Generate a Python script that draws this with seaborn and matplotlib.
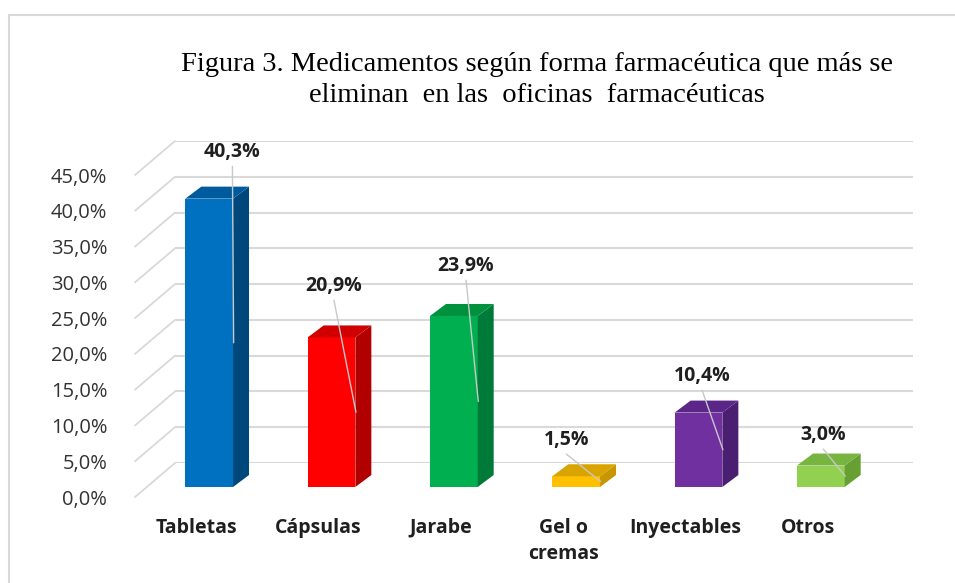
import matplotlib
matplotlib.use("Agg")
import matplotlib.pyplot as plt
import seaborn as sns
from matplotlib.patches import Polygon, Rectangle
from matplotlib.lines import Line2D
from matplotlib.transforms import IdentityTransform

# ---------------- data ----------------
categorias = ["Tabletas", "Cápsulas", "Jarabe", "Gel o\ncremas", "Inyectables", "Otros"]
valores = [40.3, 20.9, 23.9, 1.5, 10.4, 3.0]
etiquetas = ["40,3%", "20,9%", "23,9%", "1,5%", "10,4%", "3,0%"]
ticks_y = [0, 5, 10, 15, 20, 25, 30, 35, 40, 45]
ticks_y_txt = ["0,0%", "5,0%", "10,0%", "15,0%", "20,0%", "25,0%",
               "30,0%", "35,0%", "40,0%", "45,0%"]
titulo = ("Figura 3. Medicamentos según forma farmacéutica que más se\n"
          "eliminan  en las  oficinas  farmacéuticas")

# ---------------- style ----------------
col_frente = ["#0070C0", "#FF0000", "#00B050", "#FFC000", "#7030A0", "#92D050"]
col_lado = ["#00487C", "#B00000", "#007A38", "#C89600", "#4A1E70", "#66A032"]
col_tapa = ["#005A9E", "#D00000", "#00913F", "#D9A300", "#5C2688", "#78B440"]
lbl_dx = [0.19, 0.02, 0.10, -0.08, 0.03, 0.02]
lbl_y = [46.8, 28.1, 30.9, 6.6, 15.5, 7.3]

W, H = 955, 583
DX, DY = 16, 12  # bar depth in pixels

sns.set_theme(style="white")
plt.rcParams["font.family"] = ["Open Sans", "DejaVu Sans"]

fig = plt.figure(figsize=(W / 100, H / 100), dpi=100)
fig.patch.set_facecolor("white")

def px_axes(left, bottom_from_top, width, height):
    return fig.add_axes([left / W, (H - bottom_from_top) / H, width / W, height / H])

AX_H = 322
ax_back = px_axes(175, 463, 738, AX_H)
ax_front = px_axes(135, 497, 734, AX_H)
ax_bar = px_axes(148, 487, 734, AX_H)

for a in (ax_back, ax_front, ax_bar):
    a.set_ylim(0, 45)
    a.patch.set_alpha(0)
    for s in a.spines.values():
        s.set_visible(False)

# back wall gridlines
ax_back.set_xlim(0, 1)
ax_back.set_xticks([])
ax_back.set_yticks(ticks_y)
ax_back.set_yticklabels([])
ax_back.tick_params(length=0)
ax_back.grid(axis="y", color="#D9D9D9", linewidth=1.5)
ax_back.set_axisbelow(True)

# front plane: tick labels
ax_front.set_xlim(-0.5, 5.5)
ax_front.set_xticks(range(len(categorias)))
ax_front.set_xticklabels(categorias, fontsize=14, fontweight="bold", color="#1F1F1F")
ax_front.set_yticks(ticks_y)
ax_front.set_yticklabels(ticks_y_txt, fontsize=14.5, color="#333333")
ax_front.tick_params(axis="y", length=0, pad=20)
ax_front.tick_params(axis="x", length=0, pad=15)
for t in ax_front.get_xticklabels():
    t.set_linespacing(1.4)
    t.set_verticalalignment("top")

# bars
sns.barplot(x=categorias, y=valores, hue=categorias, palette=col_frente,
            width=0.39, saturation=1, legend=False, linewidth=0, edgecolor="none",
            ax=ax_bar)
ax_bar.set_xlim(-0.5, 5.5)
ax_bar.set_ylim(0, 45)
ax_bar.set_xticks([])
ax_bar.set_yticks([])
ax_bar.set_xlabel("")
ax_bar.set_ylabel("")

# diagonal connector lines from front plane to back wall
for v in ticks_y:
    p0 = ax_front.transData.transform((-0.5, v))
    p1 = ax_back.transData.transform((0, v))
    fig.add_artist(Line2D([p0[0], p1[0]], [p0[1], p1[1]], transform=IdentityTransform(),
                          color="#D9D9D9", linewidth=1.3, zorder=0))

# 3D sides and tops from bar patches
bars = sorted([p for p in ax_bar.patches if isinstance(p, Rectangle) and p.get_height() > 0],
              key=lambda p: p.get_x())
fig.canvas.draw()
for i, p in enumerate(bars):
    p.set_edgecolor("none")
    p.set_linewidth(0)
    x0, y0 = ax_bar.transData.transform((p.get_x(), 0))
    x1, y1 = ax_bar.transData.transform((p.get_x() + p.get_width(), p.get_height()))
    side = Polygon([(x1, y0), (x1 + DX, y0 + DY), (x1 + DX, y1 + DY), (x1, y1)],
                   closed=True, transform=IdentityTransform(), facecolor=col_lado[i],
                   edgecolor="none", clip_on=False, zorder=3)
    top = Polygon([(x0, y1), (x1, y1), (x1 + DX, y1 + DY), (x0 + DX, y1 + DY)],
                  closed=True, transform=IdentityTransform(), facecolor=col_tapa[i],
                  edgecolor="none", clip_on=False, zorder=3)
    ax_bar.add_artist(side)
    ax_bar.add_artist(top)

# data labels with leader lines
for i, v in enumerate(valores):
    xl = i + lbl_dx[i]
    ax_bar.text(xl, lbl_y[i], etiquetas[i], ha="center", va="center",
                fontsize=14, fontweight="bold", color="#1F1F1F", zorder=6, clip_on=False)
    ax_bar.plot([xl, i + 0.2], [lbl_y[i] - 2.0, v / 2], color="#C8C8C8",
                linewidth=1.0, zorder=5, clip_on=False)

# title
fig.text(537 / W, 1 - 80 / H, titulo, ha="center", va="center", fontsize=20.5,
         family="Liberation Serif", color="#000000", linespacing=1.3)

# chart border
fig.add_artist(Rectangle((9 / W, -0.01), 1.0, 1 - 15 / H + 0.01, transform=fig.transFigure,
                         fill=False, edgecolor="#D9D9D9", linewidth=1.5))

fig.savefig("out.png", dpi=100)
